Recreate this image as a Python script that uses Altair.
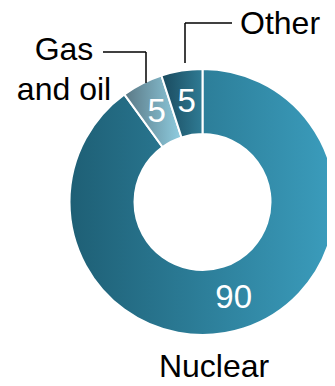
import altair as alt
import pandas as pd

# ---- data ----
categories = ["Nuclear", "Gas and oil", "Other"]
values = [90, 5, 5]
label_texts = ["Nuclear", "Gas\nand oil", "Other"]

# ---- styling / layout ----
CX, CY = 194.5, 194          # donut centre (chart px)
R_OUT, R_IN = 133, 68
R_LABEL = 101
FONT = "Liberation Sans"

gradients = {
    "Nuclear": ["#1e5f75", "#3b9dbd"],
    "Gas and oil": ["#5a7885", "#8fcde0"],
    "Other": ["#1a4a5e", "#2f7b94"],
}

df = pd.DataFrame({"category": categories, "value": values, "order": range(len(values))})

base = (
    alt.Chart(df)
    .transform_window(cum="sum(value)", sort=[alt.SortField("order")], frame=[None, 0])
    .transform_calculate(start="datum.cum - datum.value", mid="datum.cum - datum.value/2")
)

theta_scale = alt.Scale(domain=[0, 100])

layers = []
for cat in categories:
    c0, c1 = gradients[cat]
    grad = alt.LinearGradient(
        gradient="linear",
        stops=[alt.GradientStop(color=c0, offset=0), alt.GradientStop(color=c1, offset=1)],
        x1=0, x2=1, y1=0, y2=0,
    )
    layers.append(
        base.transform_filter(alt.datum.category == cat)
        .mark_arc(innerRadius=R_IN, outerRadius=R_OUT, color=grad, stroke="white", strokeWidth=2)
        .encode(
            theta=alt.Theta("start:Q", scale=theta_scale),
            theta2="cum:Q",
            x=alt.value(CX),
            y=alt.value(CY),
        )
    )

value_labels = base.mark_text(
    font=FONT, fontSize=33, color="white", baseline="middle", align="center"
).encode(
    theta=alt.Theta("mid:Q", scale=theta_scale),
    radius=alt.value(R_LABEL),
    text=alt.Text("value:Q"),
    x=alt.value(CX),
    y=alt.value(CY),
)

# outside category labels (annotation layout)
ann = pd.DataFrame({
    "text": label_texts,
    "px": [206, 56, 232],
    "py": [369, 52, 26],
    "align": ["center", "center", "left"],
})
cat_labels = []
for i, row in ann.iterrows():
    cat_labels.append(
        alt.Chart(ann.iloc[[i]])
        .mark_text(font=FONT, fontSize=32, color="black", align=row["align"],
                   baseline="alphabetic", lineBreak="\n", lineHeight=40)
        .encode(
            x=alt.X("px:Q", scale=None),
            y=alt.Y("py:Q", scale=None),
            text="text:N",
        )
    )

# leader lines (annotation layout)
leaders = pd.DataFrame({
    "x": [95, 138, 177, 177],
    "y": [44, 44, 55, 15],
    "x2": [138, 138, 177, 224],
    "y2": [44, 75, 15, 15],
})
leader_lines = alt.Chart(leaders).mark_rule(color="black", strokeWidth=1.5).encode(
    x=alt.X("x:Q", scale=None),
    y=alt.Y("y:Q", scale=None),
    x2="x2:Q",
    y2="y2:Q",
)

chart = (
    alt.layer(*layers, value_labels, leader_lines, *cat_labels)
    .properties(width=319, height=370, padding=0, autosize=alt.AutoSizeParams(type="none"))
    .configure_view(stroke=None)
)

chart.save("out.html", embed_options={"renderer": "svg", "actions": False})
